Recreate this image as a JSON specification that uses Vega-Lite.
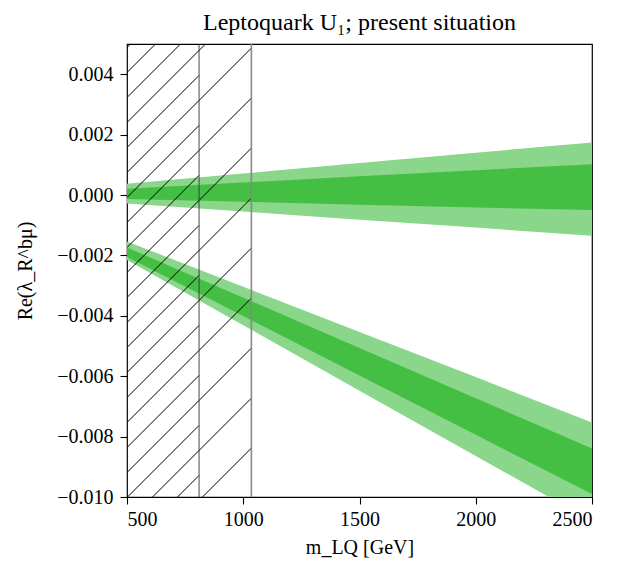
{
  "$schema": "https://vega.github.io/schema/vega-lite/v6.json",
  "width": 465,
  "height": 453,
  "autosize": {"type": "none"},
  "padding": {"left": 127, "top": 44, "right": 37, "bottom": 79},
  "background": "white",
  "title": {"text": "Leptoquark U₁; present situation", "font": "Liberation Serif", "fontSize": 24, "fontWeight": "normal", "color": "black", "anchor": "middle", "frame": "group", "offset": -11, "baseline": "alphabetic"},
  "datasets": {
    "bands": [
      {"band": "upper", "m": 500, "outer_lo": -0.00028, "outer_hi": 0.00037, "inner_lo": -0.00013, "inner_hi": 0.00021},
      {"band": "upper", "m": 1000, "outer_lo": -0.00055, "outer_hi": 0.00071, "inner_lo": -0.00022, "inner_hi": 0.00041},
      {"band": "upper", "m": 1500, "outer_lo": -0.00082, "outer_hi": 0.00106, "inner_lo": -0.00032, "inner_hi": 0.00062},
      {"band": "upper", "m": 2000, "outer_lo": -0.00108, "outer_hi": 0.0014, "inner_lo": -0.00041, "inner_hi": 0.00082},
      {"band": "upper", "m": 2500, "outer_lo": -0.00135, "outer_hi": 0.00174, "inner_lo": -0.0005, "inner_hi": 0.00102},
      {"band": "lower", "m": 500, "outer_lo": -0.00215, "outer_hi": -0.00154, "inner_lo": -0.00205, "inner_hi": -0.00174},
      {"band": "lower", "m": 1000, "outer_lo": -0.00431, "outer_hi": -0.00304, "inner_lo": -0.00401, "inner_hi": -0.0034},
      {"band": "lower", "m": 1500, "outer_lo": -0.00648, "outer_hi": -0.00454, "inner_lo": -0.00598, "inner_hi": -0.00507},
      {"band": "lower", "m": 2000, "outer_lo": -0.00864, "outer_hi": -0.00603, "inner_lo": -0.00794, "inner_hi": -0.00673},
      {"band": "lower", "m": 2500, "outer_lo": -0.0108, "outer_hi": -0.00753, "inner_lo": -0.0099, "inner_hi": -0.00839}
    ],
    "hatch": [
      {"m": 500, "v": 0.004056, "m2": 622.6, "v2": 0.005},
      {"m": 500, "v": 0.002401, "m2": 837.6, "v2": 0.005},
      {"m": 500, "v": 0.000745, "m2": 1035, "v2": 0.004864},
      {"m": 500, "v": -0.000911, "m2": 1035, "v2": 0.003208},
      {"m": 500, "v": -0.002566, "m2": 1035, "v2": 0.001553},
      {"m": 500, "v": -0.004222, "m2": 1035, "v2": -0.000103},
      {"m": 500, "v": -0.005878, "m2": 1035, "v2": -0.001759},
      {"m": 500, "v": -0.007533, "m2": 1035, "v2": -0.003414},
      {"m": 500, "v": -0.009189, "m2": 1035, "v2": -0.00507},
      {"m": 609.8, "v": -0.01, "m2": 1035, "v2": -0.006726},
      {"m": 824.7, "v": -0.01, "m2": 1035, "v2": -0.008381},
      {"m": 500, "v": 0.004884, "m2": 515.1, "v2": 0.005},
      {"m": 500, "v": 0.003229, "m2": 730.0, "v2": 0.005},
      {"m": 500, "v": 0.001573, "m2": 810, "v2": 0.00396},
      {"m": 500, "v": -0.000083, "m2": 810, "v2": 0.002304},
      {"m": 500, "v": -0.001738, "m2": 810, "v2": 0.000649},
      {"m": 500, "v": -0.003394, "m2": 810, "v2": -0.001007},
      {"m": 500, "v": -0.00505, "m2": 810, "v2": -0.002663},
      {"m": 500, "v": -0.006705, "m2": 810, "v2": -0.004318},
      {"m": 500, "v": -0.008361, "m2": 810, "v2": -0.005974},
      {"m": 502.1, "v": -0.01, "m2": 810, "v2": -0.007629},
      {"m": 717.2, "v": -0.01, "m2": 810, "v2": -0.009285}
    ]
  },
  "encoding": {
    "x": {"field": "m", "type": "quantitative", "scale": {"domain": [500, 2500], "nice": false, "zero": false},
      "axis": {"values": [500, 1000, 1500, 2000, 2500], "format": "d", "title": "m_LQ [GeV]", "grid": false, "domain": false,
        "labelFont": "Liberation Serif", "labelFontSize": 20, "labelColor": "black", "labelPadding": 5,
        "tickColor": "black", "tickSize": 7, "tickWidth": 1.1,
        "titleFont": "Liberation Serif", "titleFontSize": 20, "titleFontWeight": "normal", "titleColor": "black", "titlePadding": 8}}
  },
  "layer": [
    {
      "data": {"name": "bands"},
      "mark": {"type": "area", "color": "#8AD68A", "opacity": 1, "clip": true},
      "encoding": {
        "y": {"field": "outer_lo", "type": "quantitative", "scale": {"domain": [-0.01, 0.005], "nice": false, "zero": false},
          "axis": {"values": [-0.01, -0.008, -0.006, -0.004, -0.002, 0, 0.002, 0.004], "format": ".3f", "title": "Re(λ_R^bμ)", "grid": false, "domain": false,
            "labelFont": "Liberation Serif", "labelFontSize": 20, "labelColor": "black", "labelPadding": 7,
            "tickColor": "black", "tickSize": 7, "tickWidth": 1.1,
            "titleFont": "Liberation Serif", "titleFontSize": 20, "titleFontWeight": "normal", "titleColor": "black", "titlePadding": 21}},
        "y2": {"field": "outer_hi"},
        "detail": {"field": "band"}
      }
    },
    {
      "data": {"name": "bands"},
      "mark": {"type": "area", "color": "#44BF44", "opacity": 1, "clip": true},
      "encoding": {
        "y": {"field": "inner_lo", "type": "quantitative", "scale": {"domain": [-0.01, 0.005], "nice": false, "zero": false},
          "axis": {"values": [-0.01, -0.008, -0.006, -0.004, -0.002, 0, 0.002, 0.004], "format": ".3f", "title": "Re(λ_R^bμ)", "grid": false, "domain": false,
            "labelFont": "Liberation Serif", "labelFontSize": 20, "labelColor": "black", "labelPadding": 7,
            "tickColor": "black", "tickSize": 7, "tickWidth": 1.1,
            "titleFont": "Liberation Serif", "titleFontSize": 20, "titleFontWeight": "normal", "titleColor": "black", "titlePadding": 21}},
        "y2": {"field": "inner_hi"},
        "detail": {"field": "band"}
      }
    },
    {
      "data": {"name": "hatch"},
      "mark": {"type": "rule", "color": "black", "strokeWidth": 1, "clip": true},
      "encoding": {
        "y": {"field": "v", "type": "quantitative", "scale": {"domain": [-0.01, 0.005], "nice": false, "zero": false},
          "axis": {"values": [-0.01, -0.008, -0.006, -0.004, -0.002, 0, 0.002, 0.004], "format": ".3f", "title": "Re(λ_R^bμ)", "grid": false, "domain": false,
            "labelFont": "Liberation Serif", "labelFontSize": 20, "labelColor": "black", "labelPadding": 7,
            "tickColor": "black", "tickSize": 7, "tickWidth": 1.1,
            "titleFont": "Liberation Serif", "titleFontSize": 20, "titleFontWeight": "normal", "titleColor": "black", "titlePadding": 21}},
        "x2": {"field": "m2"},
        "y2": {"field": "v2"}
      }
    },
    {
      "data": {"values": [{"m": 810}]},
      "mark": {"type": "rule", "color": "#333333", "strokeWidth": 0.9}
    },
    {
      "data": {"values": [{"m": 1035}]},
      "mark": {"type": "rule", "color": "#888888", "strokeWidth": 1.6}
    }
  ],
  "config": {
    "view": {"stroke": "black", "strokeWidth": 1.2},
    "font": "Liberation Serif"
  }
}
